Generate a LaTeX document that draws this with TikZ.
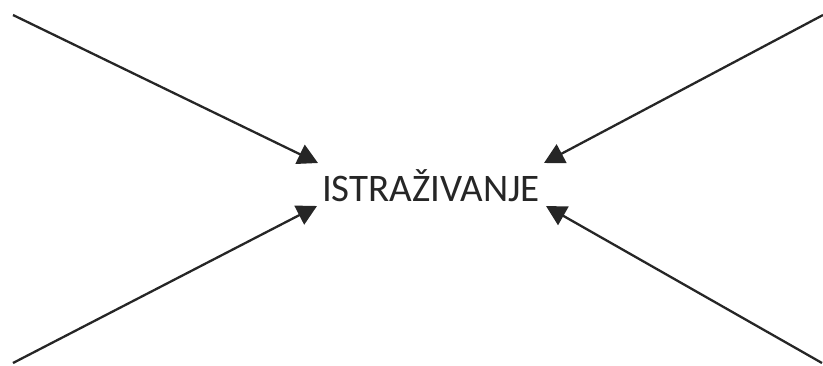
\documentclass[tikz,border=0pt]{standalone}
\usepackage{fontspec}
\setmainfont{Carlito}
\usetikzlibrary{arrows.meta}
\begin{document}
\begin{tikzpicture}[x=1pt,y=-1pt,
  conn/.style={line width=2.3pt,draw=black!85,-{Triangle[length=20pt,width=21pt]}},
  lbl/.style={font=\fontsize{39}{44}\selectfont,text=black!85,inner sep=0pt}]
\useasboundingbox (0,0) rectangle (823,365);
\node[lbl] (c) at (431,186) {ISTRAŽIVANJE};
\coordinate (tl) at (13,15);
\coordinate (tr) at (823,15);
\coordinate (bl) at (13,363);
\coordinate (br) at (822,363);
\coordinate (ttl) at (318,163);
\coordinate (ttr) at (544,163);
\coordinate (tbl) at (317,206);
\coordinate (tbr) at (546,206);
\draw[conn] (tl) -- (ttl);
\draw[conn] (tr) -- (ttr);
\draw[conn] (bl) -- (tbl);
\draw[conn] (br) -- (tbr);
\end{tikzpicture}
\end{document}
